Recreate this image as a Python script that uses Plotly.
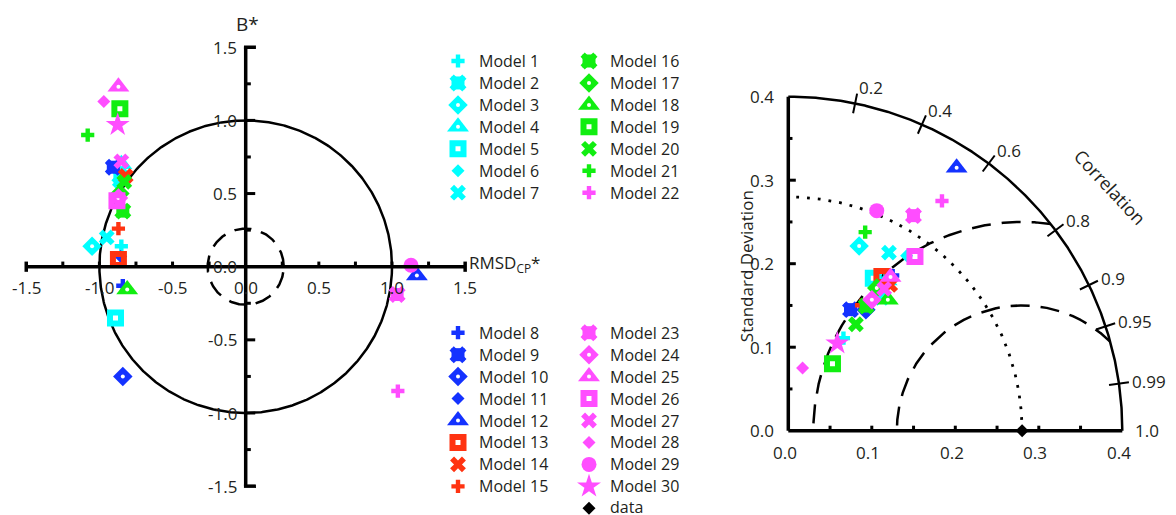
import numpy as np
import plotly.graph_objects as go

# ---------------- data ----------------
model_names = [f"Model {i}" for i in range(1, 31)]
model_groups = ["cyan"] * 7 + ["blue"] * 5 + ["red"] * 3 + ["green"] * 6 + ["magenta"] * 9
model_symbols = ["cross", "starsq", "diadot", "tri", "sq", "dia", "x",
                 "cross", "starsq", "diadot", "dia", "tri",
                 "sq", "x", "cross",
                 "starsq", "diadot", "tri", "sq", "x", "cross",
                 "cross", "starsq", "diadot", "tri", "sq", "x", "dia", "circle", "star"]

# Target diagram: normalized, signed unbiased RMSD (x) and normalized bias B* (y)
rmsd_cp = [-0.85, -0.86, -1.05, -0.85, -0.89, -0.87, -0.95, -0.84, -0.905, -0.84,
           -0.855, 1.17, -0.87, -0.82, -0.87, -0.84, -0.86, -0.81, -0.86, -0.83,
           -1.08, 1.04, 1.035, -0.87, -0.87, -0.88, -0.85, -0.97, 1.13, -0.875]
bias = [0.14, 0.62, 0.14, 0.70, -0.35, 0.56, 0.20, -0.13, 0.68, -0.75,
        0.07, -0.06, 0.05, 0.62, 0.26, 0.38, 0.50, -0.155, 1.08, 0.58,
        0.90, -0.85, -0.19, 0.47, 1.23, 0.45, 0.72, 1.13, 0.01, 0.97]

# Taylor diagram: standard deviation and correlation
std_dev = [0.129, 0.195, 0.237, 0.215, 0.209, 0.253, 0.245, 0.224, 0.163, 0.172,
           0.173, 0.374, 0.216, 0.213, 0.174, 0.176, 0.201, 0.197, 0.096, 0.151,
           0.255, 0.331, 0.298, 0.186, 0.221, 0.258, 0.205, 0.077, 0.284, 0.120]
correlation = [0.512, 0.573, 0.358, 0.548, 0.487, 0.560, 0.492, 0.558, 0.457, 0.540,
               0.553, 0.539, 0.519, 0.573, 0.504, 0.530, 0.527, 0.605, 0.551, 0.536,
               0.361, 0.556, 0.503, 0.538, 0.554, 0.588, 0.560, 0.222, 0.373, 0.489]
ref_std = 0.28
ref_corr = 1.0

target_ticks = [-1.5, -1.0, -0.5, 0.0, 0.5, 1.0, 1.5]
taylor_ticks = [0.0, 0.1, 0.2, 0.3, 0.4]
corr_ticks = [0.2, 0.4, 0.6, 0.8, 0.9, 0.95, 0.99, 1.0]

# ---------------- styles ----------------
PAL = {"cyan": "#00FFFF", "blue": "#1432FF", "red": "#FF3311",
       "green": "#11EE11", "magenta": "#FF4DFF"}
# layers: (plotly symbol, size, colour override, line width)
LAYERS = {
    "cross": [("cross", 11, None, 0)],
    "starsq": [("x", 15, None, 0), ("square", 13, None, 0)],
    "diadot": [("diamond", 15, None, 0), ("circle", 4, "white", 0)],
    "tri": [("triangle-up", 19, None, 0), ("circle", 4, "white", 0)],
    "sq": [("square-open", 11, None, 6)],
    "dia": [("diamond", 10, None, 0)],
    "x": [("x", 14, None, 0)],
    "circle": [("circle", 15, None, 0)],
    "star": [("star", 18, None, 0)],
}
TXT = "#231F20"
FONT = "Open Sans"
FS = 16
FT = 17

fig = go.Figure()


def add_marker(xs, ys, key, color, xa, ya):
    for sym, size, col, lw in LAYERS[key]:
        c = col or color
        mk = dict(symbol=sym, size=size, color=c, line=dict(width=lw, color=c))
        fig.add_trace(go.Scatter(x=xs, y=ys, mode="markers", marker=mk, xaxis=xa, yaxis=ya,
                                 hoverinfo="skip", showlegend=False))


def add_line(xs, ys, xa, ya, width=2.5, dash="solid"):
    fig.add_trace(go.Scatter(x=xs, y=ys, mode="lines", line=dict(color="black", width=width, dash=dash),
                             xaxis=xa, yaxis=ya, hoverinfo="skip", showlegend=False))


shapes = []
annotations = []


def seg(x0, y0, x1, y1, xr, yr, w=3):
    shapes.append(dict(type="line", x0=x0, y0=y0, x1=x1, y1=y1, xref=xr, yref=yr,
                       line=dict(color="black", width=w)))


def txt(x, y, s, xr, yr, size=FS, xanchor="center", yanchor="middle", angle=0, yshift=0):
    annotations.append(dict(x=x, y=y, text=s, xref=xr, yref=yr, showarrow=False,
                            xanchor=xanchor, yanchor=yanchor, textangle=angle, yshift=yshift,
                            font=dict(family=FONT, size=size, color=TXT)))


# ---------------- target diagram (x / y) ----------------
th = np.linspace(0, 2 * np.pi, 721)
add_line(np.cos(th), np.sin(th), "x", "y", width=2.5)
add_line(0.26 * np.cos(th), 0.26 * np.sin(th), "x", "y", width=2.5, dash="17px,10px")

seg(-1.5, 0, 1.5, 0, "x", "y", 3.5)
seg(0, -1.5, 0, 1.5, "x", "y", 3.5)
for v in [-1.5, 1.5]:
    seg(v, -0.035, v, 0.035, "x", "y", 3.5)
    seg(-0.012, v, 0.07, v, "x", "y", 3.5)
for v in np.arange(-1.25, 1.3, 0.25):
    if abs(v) < 1e-9:
        continue
    seg(v, 0, v, 0.035, "x", "y", 3)
    major = abs(v * 2 - round(v * 2)) < 1e-9
    seg(0, v, 0.065 if major else 0.035, v, "x", "y", 3)

for v in target_ticks:
    txt(v, -0.139, f"{v:.1f}", "x", "y", size=FT)
    txt(-0.045, v, f"{v:.1f}", "x", "y", size=FT, xanchor="right")
txt(0.01, 1.66, "B*", "x", "y", size=19)
txt(1.515, 0.02, "RMSD<sub>CP</sub>*", "x", "y", size=17, xanchor="left")

for i in range(30):
    add_marker([rmsd_cp[i]], [bias[i]], model_symbols[i], PAL[model_groups[i]], "x", "y")

# ---------------- Taylor diagram (x2 / y2) ----------------
R = 0.4
a = np.linspace(0, np.pi / 2, 361)
add_line(R * np.cos(a), R * np.sin(a), "x2", "y2", width=2.5)
add_line(ref_std * np.cos(a), ref_std * np.sin(a), "x2", "y2", width=2.8, dash="2.8px,8px")
phi = np.linspace(0, np.pi, 2001)
for rr in [0.15, 0.25]:
    xs = ref_std + rr * np.cos(phi)
    ys = rr * np.sin(phi)
    m = (xs ** 2 + ys ** 2 <= R ** 2) & (xs >= 0)
    add_line(xs[m], ys[m], "x2", "y2", width=2.5, dash="19px,11px")

seg(0, 0, 0, R, "x2", "y2", 3.5)
seg(0, 0, R, 0, "x2", "y2", 3.5)
for k in range(1, 8):
    v = 0.05 * k
    seg(0, v, 0.009 if k % 2 == 0 else 0.005, v, "x2", "y2", 3)
    seg(v, 0, v, 0.006, "x2", "y2", 3)
for c in corr_ticks[:-1]:
    t = np.arccos(c)
    seg(0.388 * np.cos(t), 0.388 * np.sin(t), 0.412 * np.cos(t), 0.412 * np.sin(t), "x2", "y2", 2)
for c in corr_ticks:
    t = np.arccos(c)
    lab = f"{c:.1f}" if c in (0.2, 0.4, 0.6, 0.8, 0.9, 1.0) else f"{c:.2f}"
    txt(0.413 * np.cos(t), 0.413 * np.sin(t), lab, "x2", "y2", size=FT, xanchor="left",
        yshift=5 * np.sin(t))
for v in taylor_ticks:
    txt(-0.0147, v, f"{v:.1f}", "x2", "y2", size=FT, xanchor="right")
    txt(v - 0.004, -0.0267, f"{v:.1f}", "x2", "y2", size=FT)
txt(-0.0507, 0.197, "Standard Deviation", "x2", "y2", size=17, angle=-90)
txt(0.3853, 0.2919, "Correlation", "x2", "y2", size=18, angle=47)

for i in range(30):
    s, c = std_dev[i], correlation[i]
    add_marker([s * c], [s * np.sqrt(1 - c * c)], model_symbols[i], PAL[model_groups[i]], "x2", "y2")
fig.add_trace(go.Scatter(x=[ref_std * ref_corr], y=[0.0], mode="markers",
                         marker=dict(symbol="diamond", size=10, color="black"),
                         xaxis="x2", yaxis="y2", hoverinfo="skip", showlegend=False))

# ---------------- legend (x3 / y3, pixel space) ----------------
ROW = 21.95


def leg_pos(i):
    if i <= 7:
        return 458, 61 + (i - 1) * ROW
    if i <= 15:
        return 458, 332.7 + (i - 8) * ROW
    if i <= 22:
        return 589, 61 + (i - 16) * ROW
    return 589, 332.7 + (i - 23) * ROW


for i in range(1, 31):
    lx, ly = leg_pos(i)
    add_marker([lx], [ly], model_symbols[i - 1], PAL[model_groups[i - 1]], "x3", "y3")
    txt(lx + 18.5, ly, model_names[i - 1], "x3", "y3", xanchor="left")
fig.add_trace(go.Scatter(x=[589], y=[332.7 + 8 * ROW], mode="markers",
                         marker=dict(symbol="diamond", size=10, color="black"),
                         xaxis="x3", yaxis="y3", hoverinfo="skip", showlegend=False))
txt(589 + 18.5, 332.7 + 8 * ROW - 1, "data", "x3", "y3", xanchor="left")

# ---------------- layout ----------------
U1 = 146.3
O1x, O1y = 245.7, 266.7
U2 = 835.0
O2x, O2y = 788.3, 430.7
W, H = 1176, 515
hid = dict(visible=False, showgrid=False, zeroline=False, fixedrange=True)
fig.update_layout(
    width=W, height=H, margin=dict(l=0, r=0, t=0, b=0),
    paper_bgcolor="white", plot_bgcolor="rgba(0,0,0,0)", showlegend=False,
    font=dict(family=FONT, color=TXT),
    xaxis=dict(domain=[0, 480 / W], range=[(0 - O1x) / U1, (480 - O1x) / U1], anchor="y", **hid),
    yaxis=dict(domain=[0, 1], range=[(O1y - H) / U1, O1y / U1], anchor="x", **hid),
    xaxis2=dict(domain=[700 / W, 1], range=[(700 - O2x) / U2, (W - O2x) / U2], anchor="y2", **hid),
    yaxis2=dict(domain=[0, 1], range=[(O2y - H) / U2, O2y / U2], anchor="x2", **hid),
    xaxis3=dict(domain=[0, 1], range=[0, W], anchor="y3", **hid),
    yaxis3=dict(domain=[0, 1], range=[H, 0], anchor="x3", **hid),
    shapes=shapes, annotations=annotations,
)

fig.write_html("out.html", config={"displayModeBar": False},
               post_script="document.body.style.margin='0px';")
